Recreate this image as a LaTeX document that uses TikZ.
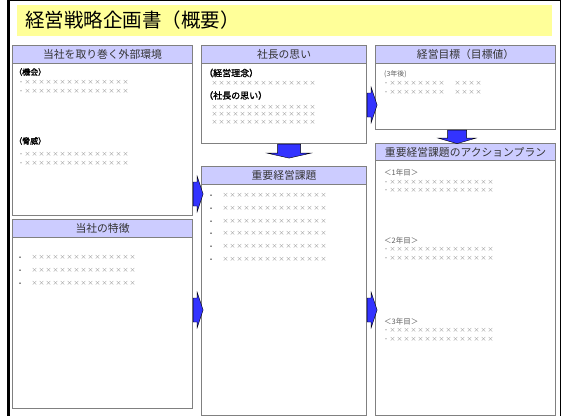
\documentclass[tikz,border=0pt]{standalone}
\usepackage{fontspec}
\setmainfont{Noto Sans CJK JP}
\newfontfamily\jpbold{Noto Sans CJK JP}[FakeBold=1.6]
\usetikzlibrary{calc}
\definecolor{ttl}{HTML}{FFFF99}
\definecolor{hdrfill}{HTML}{CCCCFF}
\definecolor{bordc}{HTML}{808080}
\definecolor{xgray}{HTML}{909090}
\definecolor{ygray}{HTML}{606060}
\definecolor{arrblue}{HTML}{3333FF}
\newcommand\xrow[1]{\foreach \k in {1,...,#1}{\makebox[7pt]{×}}}
\newcommand\bdot{\makebox[12pt][l]{\textcolor{black!75}{•}}}
\begin{document}
\begin{tikzpicture}[x=1pt,y=-1pt,
  box/.style={draw=bordc, line width=1.1pt, fill=white, anchor=north west, inner sep=0pt},
  hdr/.style={draw=bordc, line width=1.1pt, fill=hdrfill, anchor=north west, inner sep=0pt,
    font=\fontsize{10.8}{12}\selectfont, text=black!80},
  lblA/.style={anchor=west, inner sep=0pt, font=\jpbold\fontsize{8}{8}\selectfont},
  lblB/.style={anchor=west, inner sep=0pt, font=\jpbold\fontsize{9}{9}\selectfont},
  xr/.style={anchor=west, inner sep=0pt, font=\fontsize{6}{6}\selectfont, text=xgray},
  yr/.style={anchor=west, inner sep=0pt, font=\fontsize{7.5}{7.5}\selectfont, text=ygray},
  arrfill/.style={fill=arrblue, draw=black, line width=0.4pt},
  rarr/.pic={\filldraw[arrfill] (0,-12) -- (4,-12) -- (4,-18) -- (10,0) -- (4,18) -- (4,12) -- (0,12) -- cycle;},
  darrA/.pic={\filldraw[arrfill] (-11.5,0) -- (11.5,0) -- (11.5,9) -- (22,9) -- (0,14) -- (-22,9) -- (-11.5,9) -- cycle;},
  darrB/.pic={\filldraw[arrfill] (-9.5,0) -- (9.5,0) -- (9.5,8) -- (19,8) -- (0,13.5) -- (-19,8) -- (-9.5,8) -- cycle;}
]
\useasboundingbox (0,0) rectangle (563,416);
% outer frame
\draw[line width=2.5pt] (8.7,0) -- (8.7,416);
\draw[line width=1.2pt] (8,0.6) -- (561,0.6);
\draw[line width=1.2pt] (560.5,0) -- (560.5,416);
% title
\node[fill=ttl, anchor=north west, inner sep=0pt, minimum width=535pt, minimum height=31pt] (title) at (17,5) {};
\node[anchor=west, inner sep=0pt, font=\fontsize{19.5}{22}\selectfont] (titletext) at (25,20.5) {経営戦略企画書（概要）};

% box 1
\node[box, minimum width=180pt, minimum height=170pt] (b1) at (12,45) {};
\node[hdr, minimum width=180pt, minimum height=18pt] (h1) at (12,45) {当社を取り巻く外部環境};
\node[lblA] (t11) at (14,72) {（機会）};
\node[xr] (t12) at (18,82.5) {・\xrow{15}};
\node[xr] (t13) at (18,91) {・\xrow{15}};
\node[lblA] (t14) at (14,141) {（脅威）};
\node[xr] (t15) at (18,154) {・\xrow{15}};
\node[xr] (t16) at (18,163) {・\xrow{15}};

% box 2
\node[box, minimum width=180pt, minimum height=189pt] (b2) at (12,219) {};
\node[hdr, minimum width=180pt, minimum height=18pt] (h2) at (12,219) {当社の特徴};
\node[xr] (t21) at (19,257) {\bdot\xrow{15}};
\node[xr] (t22) at (19,270.5) {\bdot\xrow{15}};
\node[xr] (t23) at (19,283) {\bdot\xrow{15}};

% box 3
\node[box, minimum width=165pt, minimum height=98pt] (b3) at (201,45) {};
\node[hdr, minimum width=165pt, minimum height=18pt] (h3) at (201,45) {社長の思い};
\node[lblB] (t31) at (204,73) {（経営理念）};
\node[xr] (t32) at (211,83) {\xrow{15}};
\node[lblB] (t33) at (204,95.5) {（社長の思い）};
\node[xr] (t34) at (211,107) {\xrow{15}};
\node[xr] (t35) at (211,114.5) {\xrow{15}};
\node[xr] (t36) at (211,122) {\xrow{15}};

% box 4
\node[box, minimum width=165pt, minimum height=249pt] (b4) at (201,166) {};
\node[hdr, minimum width=165pt, minimum height=17.5pt] (h4) at (201,166) {重要経営課題};
\foreach \yy [count=\n] in {195,208,221,233.5,246,259}
  \node[xr] (t4\n) at (210,\yy) {\bdot\xrow{15}};

% box 5
\node[box, minimum width=180pt, minimum height=84pt] (b5) at (375,45) {};
\node[hdr, minimum width=180pt, minimum height=18pt] (h5) at (375,45) {経営目標（目標値）};
\node[yr, font=\fontsize{7}{7}\selectfont] (t51) at (384,74) {(3年後)};
\node[xr] (t52) at (383,83) {・\xrow{8}\hspace{9pt}\xrow{4}};
\node[xr] (t53) at (383,92) {・\xrow{8}\hspace{9pt}\xrow{4}};

% box 6
\node[box, minimum width=180pt, minimum height=272pt] (b6) at (375,143) {};
\node[hdr, minimum width=180pt, minimum height=17pt] (h6) at (375,143) {重要経営課題のアクションプラン};
\node[yr] (t61) at (384,173) {＜1年目＞};
\node[xr] (t62) at (383,182) {・\xrow{15}};
\node[xr] (t63) at (383,190) {・\xrow{15}};
\node[yr] (t64) at (384,241) {＜2年目＞};
\node[xr] (t65) at (383,249.5) {・\xrow{15}};
\node[xr] (t66) at (383,258) {・\xrow{15}};
\node[yr] (t67) at (384,322) {＜3年目＞};
\node[xr] (t68) at (383,330.5) {・\xrow{15}};
\node[xr] (t69) at (383,339) {・\xrow{15}};

% block arrows
\pic at ($(b1.north east)+(0,149)$) {rarr};
\pic at ($(b2.north east)+(0,91)$) {rarr};
\pic at ($(b4.north east)+(0,144)$) {rarr};
\pic at ($(b3.north east)+(0,60)$) {rarr};
\pic at ($(b3.south)+(5,0)$) {darrA};
\pic at ($(b5.south)+(-8.5,0)$) {darrB};
\end{tikzpicture}
\end{document}
